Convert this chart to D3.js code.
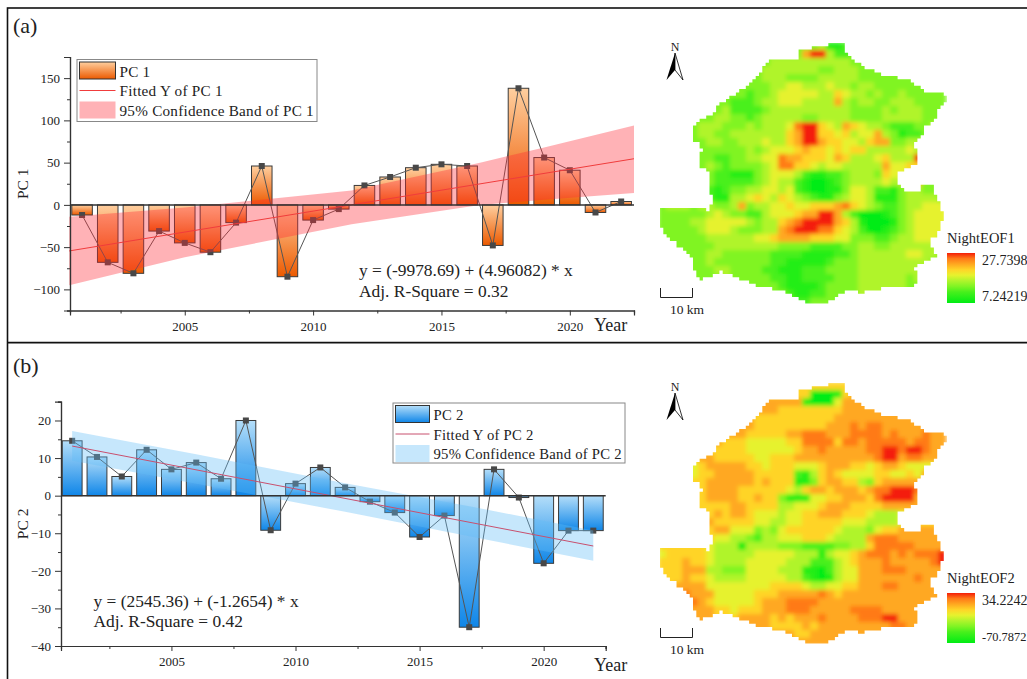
<!DOCTYPE html>
<html>
<head>
<meta charset="utf-8">
<script src="https://cdn.jsdelivr.net/npm/d3@7"></script>
<style>
html, body { margin: 0; padding: 0; background: #fff; overflow: hidden; }
text { font-family: "Liberation Serif", serif; fill: #222; }
</style>
</head>
<body>
<script>
var years = [2001, 2002, 2003, 2004, 2005, 2006, 2007, 2008, 2009, 2010, 2011, 2012, 2013, 2014, 2015, 2016, 2017, 2018, 2019, 2020, 2021, 2022];
var pc1Values = [-12, -68, -81, -31, -45, -56, -21, 46, -85, -18, -5, 23, 33, 44, 48, 46, -48, 138, 56, 41, -9, 4];
var pc2Values = [14.6, 10.3, 5.1, 12.2, 7, 8.8, 4.5, 20, -9.2, 3.2, 7.5, 2.2, -1.6, -4.5, -11, -5.3, -35, 7, -0.5, -18, -9.3, -9.3];

var xMajorTicks = [2005, 2010, 2015, 2020];
var xMinorTicks = [2002.5, 2007.5, 2012.5, 2017.5, 2022.5];
var pc1MajorTicks = [-100, -50, 0, 50, 100, 150];
var pc1MinorTicks = [-125, -75, -25, 25, 75, 125, 175];
var pc2MajorTicks = [-40, -30, -20, -10, 0, 10, 20];
var pc2MinorTicks = [-35, -25, -15, -5, 5, 15, 25];

var pc1FitYears = [2000.5, 2022.5];
var pc1FitValues = [-54.5, 54.6];
var pc1BandYears = [2000.5, 2005, 2011.5, 2016.5, 2019, 2022.5];
var pc1BandUpper = [-14, -3, 17, 50, 68, 94];
var pc1BandLower = [-95, -62, -23, 0, 6, 14];

var pc2FitYears = [2001, 2022];
var pc2FitValues = [13.2, -13.4];
var pc2BandYears = [2001, 2006, 2012, 2017, 2022];
var pc2BandUpper = [17.2, 11, 3.3, -2.8, -9.3];
var pc2BandLower = [9.3, 3.2, -4.3, -10.8, -17.3];

// map outline, same shape in both maps
var outlineX = [540, 580, 585, 600, 640, 680, 730, 770, 800, 850, 850, 885, 888, 865, 860, 830, 810, 790, 810, 800, 760, 740, 745, 760, 805, 810, 850, 860, 878, 875, 840, 858, 820, 790, 812, 785, 700, 640, 600, 560, 530, 490, 450, 420, 370, 320, 270, 220, 150, 125, 130, 90, 60, 30, 30, 135, 170, 190, 175, 175, 145, 145, 160, 128, 125, 145, 190, 200, 250, 290, 330, 350, 380, 440, 445, 500];
var outlineY = [40, 38, 70, 85, 110, 130, 140, 150, 170, 195, 183, 185, 215, 240, 270, 290, 325, 350, 380, 405, 420, 435, 462, 480, 480, 463, 465, 510, 550, 600, 640, 680, 700, 720, 745, 775, 775, 790, 780, 800, 825, 825, 805, 790, 775, 765, 745, 725, 750, 700, 680, 650, 625, 590, 530, 530, 540, 510, 460, 420, 400, 370, 360, 320, 290, 270, 250, 225, 195, 165, 125, 95, 85, 85, 60, 50];

var nightEof1 = [
"333333333333333333334112333333333333",
"333333333333333333799422333333333333",
"333333333333334444444444333333333333",
"333333333333344444443344433333333333",
"333333333333344433334444433333333333",
"333333333333334455444544344333333333",
"333333333332334555554465443433433333",
"333333333222344555444474344334443333",
"333333334222234444444444333343444333",
"333333344332344444334444333344444333",
"333334443334344458996547654432223344",
"333334433444444467996656455743122334",
"333333443344454467997665546773344433",
"333333333334345556766565664444454333",
"333333322334455877666576444564449633",
"333333432333345886654554444475566633",
"333333322111345554211223444365546333",
"333333322222345442100123444454447333",
"333333212334455452100113554221344333",
"333333211445654654321134554111344443",
"344434433473445565566678654322344555",
"333333454332245556779974200012345555",
"333344555554344678999976410001345555",
"333334555433344789998865420012345555",
"333333444444556777766655333223445554",
"333333344444444333322223344334444443",
"333333443333332222111122344444455443",
"333333433333332211111233344444444433",
"333333344333322111222333344444444333",
"333333334333332211222233344444434333",
"333333333333333211112333344444433333",
"333333333333333321122333344443333333",
"333333333333333332233333333333333333"
];

var nightEof2 = [
"666666666666666666666666887666666666",
"666666666666666666600016776666666666",
"777777777777777777100057776666666666",
"777777777777777666666667777777777777",
"777777777777666666666677777777777777",
"777777777777666666666777878877777777",
"777777777776666677888777888878777877",
"777777776665555566888868878888878877",
"666666666665555556778777778899899877",
"666667766666556667777777777899788777",
"666556777776656665556777665677655555",
"666556677777666662146765555665565777",
"666566777777676661136776643677777777",
"666666777766666654677677767889998777",
"666666777766766311155667776899997777",
"666666666776666445556777666677777777",
"666666676776555455667776665444567777",
"666666766666554455666665554444566666",
"666666677555343566666654443566777776",
"666666655443244555666544447888777777",
"666666544404444333222233446888887777",
"566666544444555554441455678887878889",
"666766544445555544422245677787777789",
"666777443335555444110245577788877777",
"666766544445555544210145577777778777",
"667777555555556666544556677788777777",
"777877755555666777778767777777777777",
"777887655555677788887777777777777777",
"777777766566677788877777888877777777",
"777777766677776767778777788899777777",
"777777777777776666767777777778877777",
"777777777777777776677777777777777777",
"777777777777777777777777777777777777"
];

var svg = d3.select("body").append("svg")
	.attr("width", 1027)
	.attr("height", 679)
	.style("display", "block");

var defs = svg.append("defs");

function addGradient(id, top, bottom) {
	var g = defs.append("linearGradient").attr("id", id)
		.attr("x1", 0).attr("y1", 0).attr("x2", 0).attr("y2", 1);
	g.append("stop").attr("offset", "0%").attr("stop-color", top);
	g.append("stop").attr("offset", "100%").attr("stop-color", bottom);
}
addGradient("barOrange", "#ffcf9f", "#ec5a00");
addGradient("barBlue", "#b4def9", "#0f86e8");

var blur = defs.append("filter").attr("id", "mapBlur")
	.attr("x", 0).attr("y", 0).attr("width", 1).attr("height", 1);
blur.append("feGaussianBlur").attr("stdDeviation", 2.1).attr("edgeMode", "duplicate");

// frame
svg.append("rect")
	.attr("x", 7.5).attr("y", 8)
	.attr("width", 1040).attr("height", 700)
	.attr("fill", "none").attr("stroke", "#111").attr("stroke-width", 1.6);
svg.append("line")
	.attr("x1", 7.5).attr("x2", 1027).attr("y1", 342.6).attr("y2", 342.6)
	.attr("stroke", "#111").attr("stroke-width", 1.8);

function drawChart(o) {
	var x = d3.scaleLinear().domain(o.xDomain).range(o.xRange);
	var y = d3.scaleLinear().domain(o.yDomain).range(o.yRange);
	var g = svg.append("g");
	var barW = x(2000.8) - x(2000);

	g.selectAll("rect.bar")
		.data(o.values)
		.enter().append("rect")
		.attr("class", "bar")
		.attr("x", (d, i) => x(years[i]) - barW / 2)
		.attr("y", d => y(Math.max(d, 0)))
		.attr("width", barW)
		.attr("height", d => Math.abs(y(d) - y(0)))
		.attr("fill", "url(#" + o.gradient + ")")
		.attr("stroke", "#3a3a3a")
		.attr("stroke-width", 1);

	var line = d3.line().x((d, i) => x(years[i])).y(d => y(d));
	g.append("path")
		.attr("d", line(o.values))
		.attr("fill", "none")
		.attr("stroke", "#555")
		.attr("stroke-width", 1);

	g.selectAll("rect.pt")
		.data(o.values)
		.enter().append("rect")
		.attr("class", "pt")
		.attr("x", (d, i) => x(years[i]) - 3)
		.attr("y", d => y(d) - 3)
		.attr("width", 6)
		.attr("height", 6)
		.attr("fill", "#484848");

	var area = d3.area()
		.x((d, i) => x(o.bandYears[i]))
		.y0((d, i) => y(o.bandLower[i]))
		.y1(d => y(d));
	g.append("path")
		.attr("d", area(o.bandUpper))
		.attr("fill", o.bandColor)
		.attr("fill-opacity", o.bandOpacity);

	var fit = d3.line().x((d, i) => x(o.fitYears[i])).y(d => y(d));
	g.append("path")
		.attr("d", fit(o.fitValues))
		.attr("fill", "none")
		.attr("stroke", o.fitColor)
		.attr("stroke-width", 1);

	// axes
	var axes = g.append("g");
	axes.append("g")
		.attr("transform", "translate(0," + o.yRange[0] + ")")
		.call(d3.axisBottom(x).tickValues(xMajorTicks).tickSize(5).tickPadding(6).tickFormat(d3.format("d")));
	axes.append("g")
		.attr("transform", "translate(0," + o.yRange[0] + ")")
		.call(d3.axisBottom(x).tickValues(xMinorTicks).tickSize(3).tickFormat(""));
	axes.append("g")
		.attr("transform", "translate(" + o.xRange[0] + ",0)")
		.call(d3.axisLeft(y).tickValues(o.yMajor).tickSize(6).tickPadding(4).tickFormat(d3.format("d")));
	axes.append("g")
		.attr("transform", "translate(" + o.xRange[0] + ",0)")
		.call(d3.axisLeft(y).tickValues(o.yMinor).tickSize(3).tickFormat(""));
	axes.selectAll("path.domain").attr("stroke", "#333").attr("stroke-width", 1.2);
	axes.selectAll(".tick line").attr("stroke", "#333").attr("stroke-width", 1);
	axes.selectAll("text")
		.style("font-family", "'Liberation Serif', serif")
		.style("font-size", "13px")
		.attr("fill", "#333");

	// zero line
	g.append("line")
		.attr("x1", o.xRange[0]).attr("x2", o.xRange[1])
		.attr("y1", y(0)).attr("y2", y(0))
		.attr("stroke", "#333").attr("stroke-width", 1.5);

	g.append("text")
		.attr("transform", "translate(" + o.yLabelX + "," + y(o.yLabelAt) + ") rotate(-90)")
		.attr("text-anchor", "middle")
		.style("font-size", "15.5px")
		.text(o.name);
	g.append("text")
		.attr("x", 594).attr("y", o.yearY)
		.style("font-size", "18px")
		.text("Year");
	g.append("text")
		.attr("x", 13).attr("y", o.tagY)
		.style("font-size", "22px")
		.text(o.tag);

	o.equation.forEach(function(t, i) {
		g.append("text")
			.attr("x", o.eqX).attr("y", o.eqY[i])
			.style("font-size", "17.4px")
			.text(t);
	});

	// legend
	var l = o.legend;
	var lg = g.append("g").attr("transform", "translate(" + l.x + "," + l.y + ")");
	lg.append("rect")
		.attr("width", l.w).attr("height", l.h)
		.attr("fill", "#fff").attr("stroke", "#888").attr("stroke-width", 1);
	lg.append("rect")
		.attr("x", 2.5).attr("y", 2.5).attr("width", l.swatch).attr("height", 17)
		.attr("fill", "url(#" + o.gradient + ")")
		.attr("stroke", "#333").attr("stroke-width", 1);
	lg.append("line")
		.attr("x1", 2.5).attr("x2", 2.5 + l.swatch).attr("y1", 31).attr("y2", 31)
		.attr("stroke", o.fitColor).attr("stroke-width", 1);
	lg.append("rect")
		.attr("x", 2.5).attr("y", 42).attr("width", l.swatch).attr("height", 17)
		.attr("fill", o.bandColor).attr("fill-opacity", o.bandOpacity);
	[o.name, "Fitted Y of " + o.name, "95% Confidence Band of " + o.name].forEach(function(t, i) {
		lg.append("text")
			.attr("x", l.swatch + 6.5).attr("y", 17 + i * 19.6)
			.style("font-size", l.font + "px")
			.style("letter-spacing", "0.25px")
			.text(t);
	});
}

drawChart({
	name: "PC 1", tag: "(a)", tagY: 33, yearY: 331,
	values: pc1Values, gradient: "barOrange",
	xDomain: [2000.53, 2022.5], xRange: [70, 634],
	yDomain: [-125, 175], yRange: [310.5, 57],
	yMajor: pc1MajorTicks, yMinor: pc1MinorTicks,
	yLabelX: 28, yLabelAt: 25,
	fitYears: pc1FitYears, fitValues: pc1FitValues, fitColor: "#f03c3c",
	bandYears: pc1BandYears, bandUpper: pc1BandUpper, bandLower: pc1BandLower,
	bandColor: "#ff2a36", bandOpacity: 0.36,
	equation: ["y = (-9978.69) + (4.96082) * x", "Adj. R-Square = 0.32"],
	eqX: 359, eqY: [276, 297],
	legend: {x: 77, y: 59.5, w: 240, h: 62, swatch: 36, font: 15.2}
});

drawChart({
	name: "PC 2", tag: "(b)", tagY: 373, yearY: 671,
	values: pc2Values, gradient: "barBlue",
	xDomain: [2000.55, 2022.5], xRange: [61, 605.7],
	yDomain: [-40, 25], yRange: [646, 401.7],
	yMajor: pc2MajorTicks, yMinor: pc2MinorTicks,
	yLabelX: 28, yLabelAt: -7.5,
	fitYears: pc2FitYears, fitValues: pc2FitValues, fitColor: "#c8506e",
	bandYears: pc2BandYears, bandUpper: pc2BandUpper, bandLower: pc2BandLower,
	bandColor: "#62bdf7", bandOpacity: 0.36,
	equation: ["y = (2545.36) + (-1.2654) * x", "Adj. R-Square = 0.42"],
	eqX: 93.5, eqY: [607, 627],
	legend: {x: 393, y: 403, w: 232, h: 60, swatch: 34, font: 14.7}
});

var levelColor = d3.scaleLinear()
	.domain([0, 2, 3, 4, 5, 6, 7, 8, 9])
	.range(["#00ec14", "#48f01c", "#80f424", "#b0f42c", "#e6f22e", "#ffd428", "#ffa820", "#ff7a18", "#f41e08"]);

// walk the outline on the raster's 3.3px cell size so the edge is stepped
function stairPath(pts, size) {
	var path = d3.path();
	var snap = v => Math.round(v / size) * size;
	var cx = snap(pts[0][0]), cy = snap(pts[0][1]);
	path.moveTo(cx, cy);
	pts.forEach(function(p, i) {
		var q = pts[(i + 1) % pts.length];
		var n = Math.max(1, Math.ceil(Math.hypot(q[0] - p[0], q[1] - p[1]) / size));
		d3.range(1, n + 1).forEach(function(k) {
			var nx = snap(p[0] + (q[0] - p[0]) * k / n);
			var ny = snap(p[1] + (q[1] - p[1]) * k / n);
			path.lineTo(nx, cy);
			path.lineTo(nx, ny);
			cx = nx;
			cy = ny;
		});
	});
	path.closePath();
	return path.toString();
}

function drawMap(id, grid, title, hi, lo, loSize, dy) {
	var mx = d3.scaleLinear().domain([24, 888]).range([658, 946]);
	var my = d3.scaleLinear().domain([36, 828]).range([42 + dy, 306 + dy]);
	var cell = mx(48) - mx(24);

	var pts = outlineX.map((d, i) => [mx(d), my(outlineY[i]) - dy]);
	defs.append("clipPath").attr("id", id)
		.append("path")
		.attr("transform", "translate(0," + dy + ")")
		.attr("d", stairPath(pts, 3.3));

	var cells = [];
	grid.forEach(function(row, r) {
		row.split("").forEach(function(ch, c) {
			cells.push({r: r, c: c, v: +ch});
		});
	});

	var m = svg.append("g").attr("clip-path", "url(#" + id + ")")
		.append("g").attr("filter", "url(#mapBlur)");
	m.selectAll("rect")
		.data(cells)
		.enter().append("rect")
		.attr("x", d => mx(24 + d.c * 24))
		.attr("y", d => my(36 + d.r * 24))
		.attr("width", cell + 0.5)
		.attr("height", cell + 0.5)
		.attr("fill", d => levelColor(d.v));

	// north arrow
	var a = svg.append("g").attr("transform", "translate(675," + dy + ")");
	a.append("text").attr("x", 0).attr("y", 51).attr("text-anchor", "middle")
		.style("font-size", "12px").text("N");
	a.append("path").attr("d", "M0,53 L-8.5,80 L0,70 Z").attr("fill", "#000");
	a.append("path").attr("d", "M0,53 L8,80 L0,70 Z").attr("fill", "#fff")
		.attr("stroke", "#000").attr("stroke-width", 0.8);

	// scale bar
	svg.append("path")
		.attr("d", "M660.5," + (288 + dy) + "V" + (297.5 + dy) + "H692.5V" + (288 + dy))
		.attr("fill", "none").attr("stroke", "#222").attr("stroke-width", 1);
	svg.append("text")
		.attr("x", 687).attr("y", 314 + dy).attr("text-anchor", "middle")
		.style("font-size", "13.5px").text("10 km");

	// colour legend
	var gradId = id + "Ramp";
	var ramp = defs.append("linearGradient").attr("id", gradId)
		.attr("x1", 0).attr("y1", 1).attr("x2", 0).attr("y2", 0);
	levelColor.domain().forEach(function(v) {
		ramp.append("stop").attr("offset", (v / 9 * 100) + "%").attr("stop-color", levelColor(v));
	});
	svg.append("rect")
		.attr("x", 947).attr("y", 253 + dy).attr("width", 28).attr("height", 50)
		.attr("fill", "url(#" + gradId + ")");
	svg.append("text").attr("x", 947).attr("y", 243 + dy)
		.style("font-size", "14.5px").text(title);
	svg.append("text").attr("x", 982).attr("y", 265 + dy)
		.style("font-size", "14px").text(hi);
	svg.append("text").attr("x", 982).attr("y", 301 + dy)
		.style("font-size", loSize + "px").text(lo);
}

drawMap("mapA", nightEof1, "NightEOF1", "27.7398", "7.24219", 14, 0);
drawMap("mapB", nightEof2, "NightEOF2", "34.2242", "-70.7872", 12.4, 340);
</script>
</body>
</html>
